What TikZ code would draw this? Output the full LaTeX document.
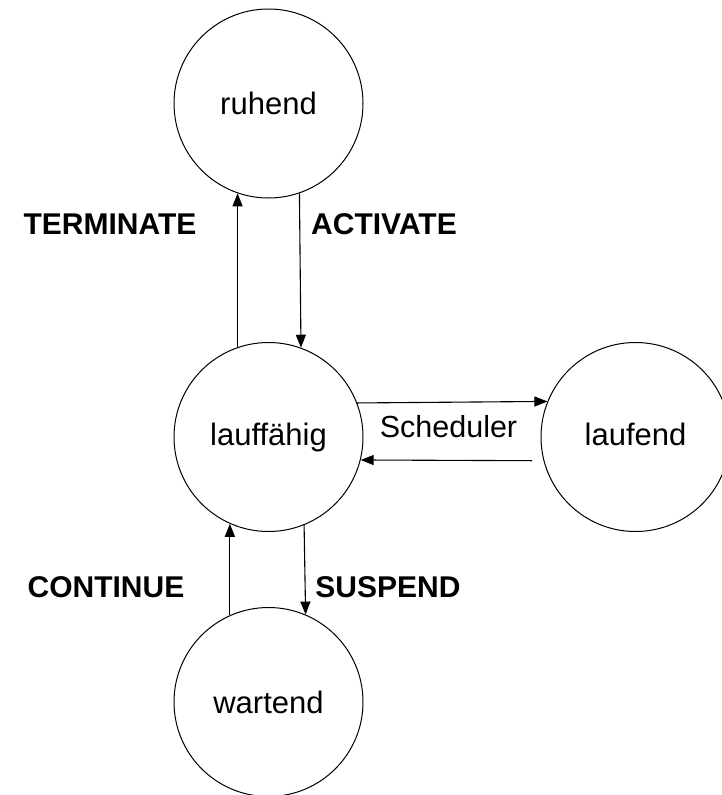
\documentclass[tikz,border=0pt]{standalone}
\usepackage{fontspec}
\setmainfont{Liberation Sans}
\usetikzlibrary{arrows.meta}

\begin{document}
\begin{tikzpicture}[x=1pt,y=-1pt,
  state/.style={draw, circle, line width=1pt, minimum size=189pt, inner sep=0pt,
    text height=22.2pt, text depth=0pt, font=\fontsize{31}{36}\selectfont},
  trans/.style={font=\fontsize{30}{35}\selectfont\bfseries, inner sep=0pt,
    text height=21.5pt, text depth=0pt},
  edgelabel/.style={font=\fontsize{30.5}{36}\selectfont, inner sep=0pt,
    text height=21.8pt, text depth=0pt},
  flow/.style={line width=1.1pt, -{Triangle[length=13pt, width=10pt]}}]
  \useasboundingbox (0,0) rectangle (722,795);
  \begin{scope}
    \clip (0,0) rectangle (722,795);

    % states
    \node[state] (ru) at (268.5,103.5) {ruhend};
    \node[state, text depth=6pt] (lf) at (268.5,437) {lauffähig};
    \node[state, text depth=6pt] (la) at (635.5,437) {laufend};
    \node[state] (wa) at (268.5,702) {wartend};

    % ruhend <-> lauffähig
    \draw[flow] (lf.109) -- (ru.251);
    \draw[flow] (ru.289.5) -- (lf.70.5);

    % lauffähig <-> laufend
    \draw[flow] (lf.21.9) -- (la.158.1);
    \coordinate (back) at (532,460.7);
    \draw[flow] (back) -- (lf.-14.5);

    % lauffähig <-> wartend
    \draw[flow] (wa.114) -- (lf.246);
    \draw[flow] (lf.292.1) -- (wa.67.9);

    % transition labels
    \node[trans] (term) at (110,224) {TERMINATE};
    \node[trans] (act)  at (384,224) {ACTIVATE};
    \node[trans] (cont) at (106,587) {CONTINUE};
    \node[trans] (susp) at (388,587) {SUSPEND};
    \node[edgelabel] (sched) at (448.5,427) {Scheduler};
  \end{scope}
\end{tikzpicture}
\end{document}
